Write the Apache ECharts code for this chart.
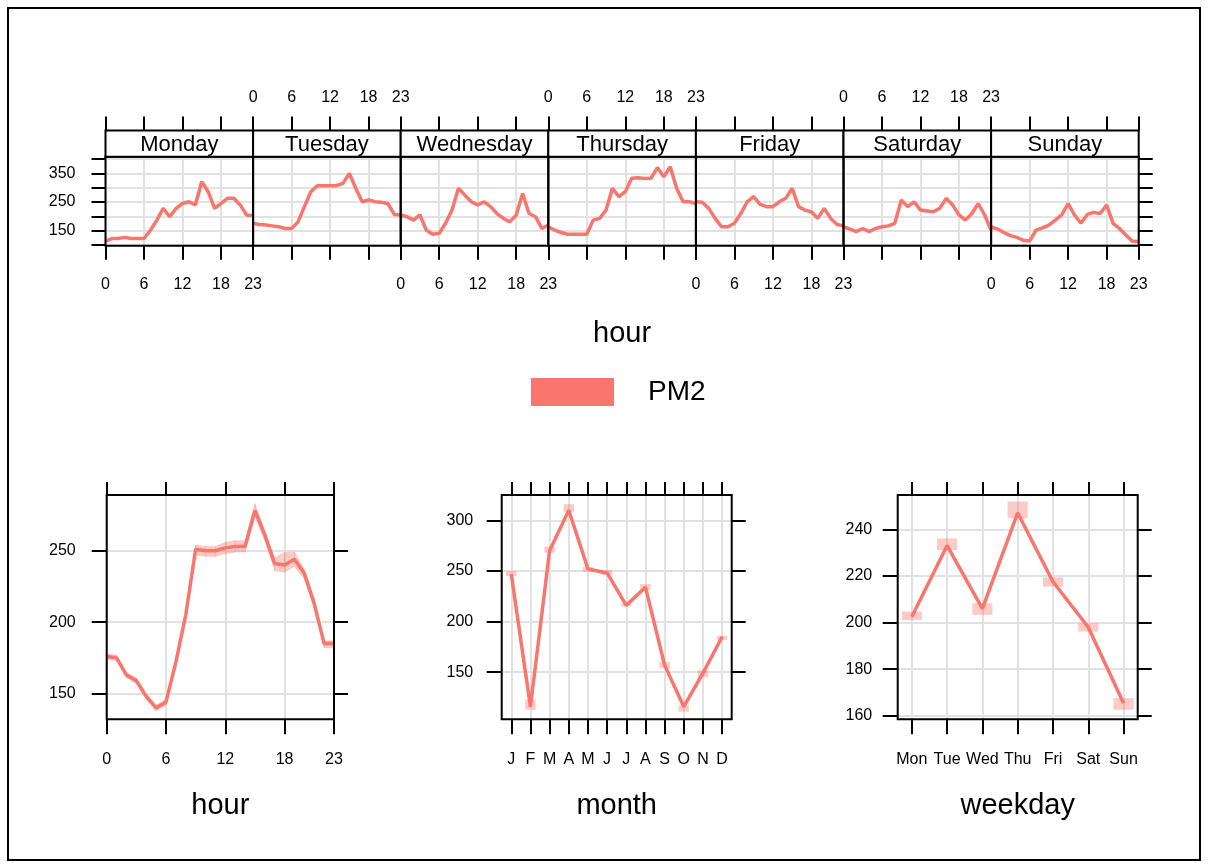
<!DOCTYPE html>
<html>
<head>
<meta charset="utf-8">
<script src="https://cdn.jsdelivr.net/npm/echarts@6/dist/echarts.min.js"></script>
<style>
html,body{margin:0;padding:0;background:#fff;}
#chart{width:1209px;height:866px;}
</style>
</head>
<body>
<div id="chart"></div>
<script>
// ---------------- DATA ----------------
const dayNames = ['Monday', 'Tuesday', 'Wednesday', 'Thursday', 'Friday', 'Saturday', 'Sunday'];
const hourTicks = [0, 6, 12, 18, 23];
const dayHourYTicks = [100, 150, 200, 250, 300, 350, 400];
const dayHourYLabels = [150, 250, 350];

const mondayValues    = [114, 123, 123, 127, 123, 123, 123, 152, 187, 228, 199, 228, 245, 251, 240, 321, 286, 228, 245, 263, 263, 240, 205, 202];
const tuesdayValues   = [176, 172, 170, 167, 164, 158, 158, 181, 234, 286, 307, 307, 307, 307, 315, 350, 298, 251, 257, 251, 249, 245, 207, 205];
const wednesdayValues = [205, 199, 187, 205, 152, 138, 141, 176, 222, 298, 274, 251, 240, 251, 234, 210, 193, 181, 205, 280, 210, 199, 158, 170];
const thursdayValues  = [164, 152, 144, 138, 138, 138, 138, 187, 193, 222, 298, 269, 286, 333, 335, 332, 333, 370, 338, 373, 298, 251, 251, 245];
const fridayValues    = [251, 249, 228, 193, 164, 164, 176, 210, 251, 269, 242, 234, 234, 251, 263, 298, 234, 222, 216, 193, 228, 193, 172, 167];
const saturdayValues  = [164, 156, 147, 158, 147, 158, 164, 167, 176, 257, 234, 251, 222, 219, 216, 228, 263, 240, 205, 187, 210, 245, 205, 152];
const sundayValues    = [164, 156, 144, 133, 127, 117, 114, 152, 160, 170, 187, 205, 245, 205, 176, 207, 214, 210, 240, 176, 158, 135, 114, 112];

const hourValues = [176, 175, 163, 159, 148, 140, 144, 172, 205, 251, 250, 250, 252, 253, 253, 278, 261, 241, 240, 244, 234, 213, 185, 185];
const hourLower  = [174, 173, 161, 157, 146, 138, 142, 170, 202, 247, 246, 246, 248, 249, 249, 274, 257, 236, 235, 239, 230, 210, 182, 182];
const hourUpper  = [178, 177, 165, 161, 150, 142, 146, 175, 208, 254, 253, 253, 256, 257, 257, 283, 264, 245, 249, 249, 237, 216, 187, 187];
const hourAxisTicks = [150, 200, 250];

const monthLabels = ['J', 'F', 'M', 'A', 'M', 'J', 'J', 'A', 'S', 'O', 'N', 'D'];
const monthValues = [247, 116, 270, 310, 252, 248, 216, 234, 157, 116, 149, 185];
const monthLower  = [245, 113, 268, 308, 249, 246, 215, 231, 154, 111, 145, 182];
const monthUpper  = [250, 123, 274, 316, 254, 251, 218, 237, 160, 117, 152, 186];
const monthAxisTicks = [150, 200, 250, 300];

const weekdayLabels = ['Mon', 'Tue', 'Wed', 'Thu', 'Fri', 'Sat', 'Sun'];
const weekdayValues = [202.5, 233, 206, 247, 217.5, 198, 165.4];
const weekdayLower  = [201.1, 231.1, 203.3, 244.7, 215.4, 196.1, 162.6];
const weekdayUpper  = [204.7, 236.1, 208.3, 251.9, 219.4, 199.7, 167.6];
const weekdayAxisTicks = [160, 180, 200, 220, 240];

const seriesName = 'PM2';

// ---------------- STYLE / LAYOUT ----------------
const FONT = '"Liberation Sans", Arial, Helvetica, sans-serif';
const LINE_COLOR = '#F8766D';
const CI_COLOR = 'rgba(248,118,109,0.38)';
const GRID_COLOR = '#e2e2e2';
const TICK_STYLE = { color: '#000', width: 2 };
const LABEL_BASE = { color: '#000', fontSize: 16, fontFamily: FONT };
const NO_LINE = { show: false, onZero: false };
const SPLIT = { show: true, lineStyle: { color: GRID_COLOR, width: 2 } };

const dayValues = [mondayValues, tuesdayValues, wednesdayValues, thursdayValues, fridayValues, saturdayValues, sundayValues];

const grids = [], xAxes = [], yAxes = [], series = [], titles = [];

function addGrid(g) {
  grids.push(Object.assign({ containLabel: false, outerBoundsMode: 'none', z: 3,
    show: true, borderColor: '#000', borderWidth: 2, backgroundColor: 'transparent' }, g));
  return grids.length - 1;
}

// tick marks hanging below a panel: a thin helper grid whose x-axis split lines are the ticks
function addBottomTicks(left, width, top, length, min, max, ticks) {
  const h = grids.length;
  grids.push({ left: left, width: width, top: top, height: length, show: false,
    containLabel: false, outerBoundsMode: 'none', z: 10 });
  xAxes.push({
    gridIndex: h, type: 'value', min: min, max: max, position: 'top', z: 10,
    axisLine: NO_LINE,
    axisTick: { show: false, customValues: ticks },
    axisLabel: { show: false, customValues: ticks },
    splitLine: { show: true, lineStyle: TICK_STYLE }
  });
  yAxes.push({ gridIndex: h, type: 'value', min: 0, max: 1, show: false, axisLine: NO_LINE });
}

// ---- top multi-panel (day x hour) ----
const panelLeft = 105.5, panelW = 147.6, dataTop = 156.7, dataH = 89, stripTop = 130.5, stripH = 26.2;
dayNames.forEach((day, i) => {
  const gx = panelLeft + i * panelW;
  const g = addGrid({ left: gx, top: dataTop, width: panelW, height: dataH });
  const xi = xAxes.length;
  xAxes.push({
    gridIndex: g, type: 'value', min: 0, max: 23, position: 'top',
    axisLine: NO_LINE,
    axisTick: { show: false, customValues: hourTicks },
    axisLabel: { show: false, customValues: hourTicks },
    splitLine: SPLIT
  });
  xAxes.push({
    gridIndex: g, type: 'value', min: 0, max: 23, position: 'bottom',
    axisLine: NO_LINE,
    axisTick: { show: false, customValues: hourTicks },
    axisLabel: Object.assign({ show: i % 2 === 0, customValues: hourTicks, margin: 31 }, LABEL_BASE),
    splitLine: { show: false }
  });
  const yi = yAxes.length;
  yAxes.push({
    gridIndex: g, type: 'value', min: 98, max: 408, position: i === 6 ? 'right' : 'left',
    axisLine: NO_LINE,
    axisTick: { show: i === 0 || i === 6, inside: false, length: 14, lineStyle: TICK_STYLE, customValues: dayHourYTicks },
    axisLabel: Object.assign({ show: i === 0, customValues: dayHourYLabels, margin: 30 }, LABEL_BASE),
    splitLine: SPLIT
  });
  series.push({
    type: 'line', name: seriesName, xAxisIndex: xi, yAxisIndex: yi,
    data: dayValues[i].map((v, h) => [h, v]),
    symbol: 'none', showSymbol: false, z: 2,
    lineStyle: { color: LINE_COLOR, width: 3.5 }, itemStyle: { color: LINE_COLOR }
  });
  addBottomTicks(gx, panelW, dataTop + dataH, 14, 0, 23, hourTicks);
  // strip
  const s = addGrid({ left: gx, top: stripTop, width: panelW, height: stripH, backgroundColor: '#fff' });
  xAxes.push({
    gridIndex: s, type: 'value', min: 0, max: 23, position: 'top',
    axisLine: NO_LINE,
    axisTick: { show: true, inside: false, length: 14, lineStyle: TICK_STYLE, customValues: hourTicks },
    axisLabel: Object.assign({ show: i % 2 === 1, customValues: hourTicks, margin: 25 }, LABEL_BASE),
    splitLine: { show: false }
  });
  yAxes.push({ gridIndex: s, type: 'value', min: 0, max: 1, show: false, axisLine: NO_LINE });
  titles.push({
    text: day, left: gx + panelW / 2, top: stripTop + 3, textAlign: 'center', padding: 0,
    textStyle: { fontSize: 22, fontWeight: 'normal', color: '#000', fontFamily: FONT }
  });
});
titles.push({
  text: 'hour', left: panelLeft + 3.5 * panelW, top: 319, textAlign: 'center', padding: 0,
  textStyle: { fontSize: 29, fontWeight: 'normal', color: '#000', fontFamily: FONT }
});

// ---- bottom panels ----
const BP_TOP = 495, BP_H = 224.3;
function bottomPanel(cfg) {
  const g = addGrid({ left: cfg.left, top: BP_TOP, width: cfg.width, height: BP_H });
  const xt = xAxes.length;
  xAxes.push({
    gridIndex: g, type: 'value', min: cfg.xmin, max: cfg.xmax, position: 'top',
    axisLine: NO_LINE,
    axisTick: { show: true, inside: false, length: 13, lineStyle: TICK_STYLE, customValues: cfg.xticks },
    axisLabel: { show: false, customValues: cfg.xticks },
    splitLine: SPLIT
  });
  xAxes.push({
    gridIndex: g, type: 'value', min: cfg.xmin, max: cfg.xmax, position: 'bottom',
    axisLine: NO_LINE,
    axisTick: { show: false, customValues: cfg.xticks },
    axisLabel: Object.assign({ customValues: cfg.xticks, margin: 32, formatter: cfg.xfmt }, LABEL_BASE),
    splitLine: { show: false },
    name: cfg.name, nameLocation: 'middle', nameGap: 72,
    nameTextStyle: { fontSize: 29, color: '#000', fontFamily: FONT }
  });
  const yl = yAxes.length;
  yAxes.push({
    gridIndex: g, type: 'value', min: cfg.ymin, max: cfg.ymax, position: 'left',
    axisLine: NO_LINE,
    axisTick: { show: true, inside: false, length: 15, lineStyle: TICK_STYLE, customValues: cfg.yticks },
    axisLabel: Object.assign({ customValues: cfg.yticks, margin: cfg.ymargin }, LABEL_BASE),
    splitLine: SPLIT
  });
  yAxes.push({
    gridIndex: g, type: 'value', min: cfg.ymin, max: cfg.ymax, position: 'right',
    axisLine: NO_LINE,
    axisTick: { show: true, inside: false, length: 14, lineStyle: TICK_STYLE, customValues: cfg.yticks },
    axisLabel: { show: false }, splitLine: { show: false }
  });
  const ref = { xi: xt, yi: yl };
  addBottomTicks(cfg.left, cfg.width, BP_TOP + BP_H, 15, cfg.xmin, cfg.xmax, cfg.xticks);
  return ref;
}

const hp = bottomPanel({ left: 106.7, width: 227.3, xmin: 0, xmax: 23, xticks: hourTicks,
  ymin: 132, ymax: 289, yticks: hourAxisTicks, ymargin: 31, name: 'hour' });
series.push({
  type: 'custom', xAxisIndex: hp.xi, yAxisIndex: hp.yi, z: 1,
  data: hourValues.map((v, h) => [h, hourLower[h], hourUpper[h]]),
  renderItem: (params, api) => {
    const i = params.dataIndex;
    if (i >= hourValues.length - 1) return null;
    const pts = [
      api.coord([i, hourLower[i]]), api.coord([i + 1, hourLower[i + 1]]),
      api.coord([i + 1, hourUpper[i + 1]]), api.coord([i, hourUpper[i]])
    ];
    return { type: 'polygon', shape: { points: pts }, style: { fill: CI_COLOR, stroke: CI_COLOR, lineWidth: 0.5 } };
  }
});
series.push({
  type: 'line', name: seriesName, xAxisIndex: hp.xi, yAxisIndex: hp.yi, z: 2,
  data: hourValues.map((v, h) => [h, v]), symbol: 'none', showSymbol: false,
  lineStyle: { color: LINE_COLOR, width: 3.5 }, itemStyle: { color: LINE_COLOR }
});

function ciRects(panel, lower, upper, frac) {
  return {
    type: 'custom', xAxisIndex: panel.xi, yAxisIndex: panel.yi, z: 1,
    data: lower.map((lo, i) => [i, lo, upper[i]]),
    renderItem: (params, api) => {
      const i = api.value(0);
      const top = api.coord([i, api.value(2)]);
      const bot = api.coord([i, api.value(1)]);
      const w = api.size([1, 0])[0] * frac;
      return { type: 'rect', shape: { x: top[0] - w / 2, y: top[1], width: w, height: bot[1] - top[1] },
        style: { fill: CI_COLOR } };
    }
  };
}

const mp = bottomPanel({ left: 501.7, width: 230, xmin: -0.5, xmax: 11.5,
  xticks: monthLabels.map((m, i) => i), xfmt: v => monthLabels[Math.round(v)],
  ymin: 103.5, ymax: 325, yticks: monthAxisTicks, ymargin: 28.5, name: 'month' });
series.push(ciRects(mp, monthLower, monthUpper, 0.55));
series.push({
  type: 'line', name: seriesName, xAxisIndex: mp.xi, yAxisIndex: mp.yi, z: 2,
  data: monthValues.map((v, i) => [i, v]), symbol: 'none', showSymbol: false,
  lineStyle: { color: LINE_COLOR, width: 3.5 }, itemStyle: { color: LINE_COLOR }
});

const wp = bottomPanel({ left: 897.7, width: 240, xmin: -0.4, xmax: 6.4,
  xticks: weekdayLabels.map((d, i) => i), xfmt: v => weekdayLabels[Math.round(v)],
  ymin: 158.5, ymax: 254.7, yticks: weekdayAxisTicks, ymargin: 25.5, name: 'weekday' });
series.push(ciRects(wp, weekdayLower, weekdayUpper, 0.57));
series.push({
  type: 'line', name: seriesName, xAxisIndex: wp.xi, yAxisIndex: wp.yi, z: 2,
  data: weekdayValues.map((v, i) => [i, v]), symbol: 'none', showSymbol: false,
  lineStyle: { color: LINE_COLOR, width: 3.5 }, itemStyle: { color: LINE_COLOR }
});

const option = {
  animation: false,
  backgroundColor: '#fff',
  textStyle: { fontFamily: FONT },
  title: titles,
  legend: {
    data: [{ name: seriesName, icon: 'rect' }],
    left: 531, top: 378, padding: 0, itemWidth: 83, itemHeight: 28, selectedMode: false,
    textStyle: { fontSize: 28, color: '#000', fontFamily: FONT, padding: [0, 0, 0, 29] }
  },
  grid: grids, xAxis: xAxes, yAxis: yAxes, series: series,
  graphic: [{
    type: 'rect', silent: true, z: 10,
    shape: { x: 8, y: 8, width: 1192, height: 852 },
    style: { fill: 'none', stroke: '#000', lineWidth: 2 }
  }]
};

const chart = echarts.init(document.getElementById('chart'), null, { renderer: 'canvas', width: 1209, height: 866 });
chart.setOption(option);
</script>
</body>
</html>
